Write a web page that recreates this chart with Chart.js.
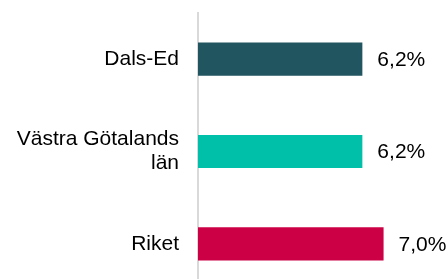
<!DOCTYPE html>
<html>
<head>
<meta charset="utf-8">
<script src="https://cdn.jsdelivr.net/npm/chart.js@4"></script>
<style>
    html, body { margin: 0; padding: 0; background: #fff; overflow: hidden; }
    #wrap { width: 448px; height: 290px; position: relative; }
</style>
</head>
<body>
<div id="wrap"><canvas id="barChart"></canvas></div>
<script>
// Andel (%) per område
const categories = ['Dals-Ed', ['Västra Götalands', 'län'], 'Riket'];
const values = [6.2, 6.2, 7.0];
const barColors = ['#21555F', '#00C0AA', '#CC0044'];

/**
 * Skriver värdet till höger om varje stapel
 */
const valueLabels = {
    id: 'valueLabels',
    afterDatasetsDraw(chart) {
        const ctx = chart.ctx;
        const meta = chart.getDatasetMeta(0);
        ctx.save();
        ctx.font = '21px "Liberation Sans", Arial, sans-serif';
        ctx.fillStyle = '#000';
        ctx.textAlign = 'left';
        ctx.textBaseline = 'middle';
        meta.data.forEach(function(bar, i) {
            const txt = values[i].toFixed(1).replace('.', ',') + '%';
            ctx.fillText(txt, bar.x + 15, bar.y + 1);
        });
        ctx.restore();
    }
};

new Chart(document.getElementById('barChart').getContext('2d'), {
    type: 'bar',
    data: {
        labels: categories,
        datasets: [{
            data: values,
            backgroundColor: barColors,
            borderWidth: 0,
            categoryPercentage: 1,
            barPercentage: 0.36
        }]
    },
    options: {
        indexAxis: 'y',
        responsive: true,
        maintainAspectRatio: false,
        animation: false,
        layout: { padding: { top: 13, right: 0, bottom: 0, left: 0 } },
        plugins: {
            legend: { display: false },
            tooltip: { enabled: false }
        },
        scales: {
            x: {
                display: false,
                min: 0,
                max: 9.43
            },
            y: {
                grid: { display: false, drawTicks: false },
                border: { display: true, color: '#d9d9d9', width: 2 },
                ticks: {
                    color: '#000',
                    padding: 19,
                    font: { family: '"Liberation Sans", Arial, sans-serif', size: 21, lineHeight: 1.15 }
                },
                afterFit(scale) {
                    scale.width = 198;
                    scale.paddingTop = 0;
                    scale.paddingBottom = 0;
                }
            }
        }
    },
    plugins: [valueLabels]
});
</script>
</body>
</html>
